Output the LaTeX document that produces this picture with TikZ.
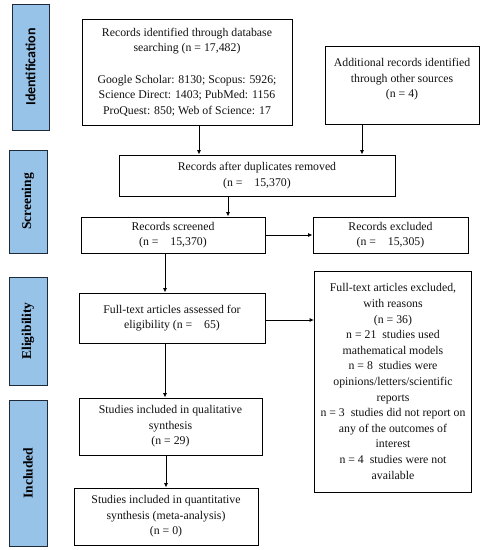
\documentclass[tikz,border=0pt]{standalone}
\usepackage{fontspec}
\setmainfont{Liberation Serif}
\newfontfamily\calib{Carlito}
\usetikzlibrary{arrows.meta}
\definecolor{sideblue}{HTML}{97C3E8}
\definecolor{sideedge}{HTML}{1E2A3A}
\definecolor{txt}{HTML}{111111}
\tikzset{
  flowbox/.style={draw=black, line width=0.9pt, fill=white, inner sep=0pt, align=center,
    text=txt, font=\fontsize{11.8}{15.6}\selectfont},
  sidebox/.style={draw=sideedge, line width=1pt, fill=sideblue, inner sep=0pt},
  sidetext/.style={rotate=90, text=black, font=\fontsize{13.5}{15}\selectfont\bfseries},
  arr/.style={line width=0.9pt, -{Latex[length=4.5pt,width=4pt]}}
}
\begin{document}
\begin{tikzpicture}[x=1pt,y=-1pt]
\useasboundingbox (0,0) rectangle (483,550);
% side labels
\node[sidebox, minimum width=37pt, minimum height=126pt] (sid) at (30.5,67) {};
\node[sidetext, font=\calib\fontsize{14}{15}\selectfont\bfseries] (sidt) at (sid.center) {Identification};
\node[sidebox, minimum width=38pt, minimum height=103pt] (ssc) at (28,201.5) {};
\node[sidetext] (ssct) at (ssc.center) {Screening};
\node[sidebox, minimum width=38pt, minimum height=108pt] (sel) at (28,331) {};
\node[sidetext] (selt) at (sel.center) {Eligibility};
\node[sidebox, minimum width=38pt, minimum height=146pt] (sin) at (28,473) {};
\node[sidetext] (sint) at (sin.center) {Included};
% boxes
\node[flowbox, minimum width=210pt, minimum height=106pt] (rid) at (187,72)
  {Records identified through database\\ searching (n = 17,482)\\[15.6pt]
   Google Scholar: 8130; Scopus: 5926;\\ Science Direct: 1403; PubMed: 1156\\ ProQuest: 850; Web of Science: 17};
\node[flowbox, minimum width=154pt, minimum height=78pt] (add) at (402,85)
  {Additional records identified\\ through other sources\\ (n = 4)\\[-6pt]\strut};
\node[flowbox, minimum width=276pt, minimum height=41pt] (dup) at (257,175.5)
  {Records after duplicates removed\\ (n =~~~~15,370)};
\node[flowbox, minimum width=184pt, minimum height=36pt] (scr) at (173,235)
  {Records screened\\ (n =~~~~15,370)};
\node[flowbox, minimum width=155pt, minimum height=36pt] (exc) at (390.5,235)
  {Records excluded\\ (n =~~~~15,305)};
\node[flowbox, minimum width=186pt, minimum height=50pt] (ful) at (172,318)
  {Full-text articles assessed for\\ eligibility (n =~~~~65)};
\node[flowbox, minimum width=157pt, minimum height=221pt] (fex) at (393,381.5)
  {Full-text articles excluded,\\ with reasons\\ (n = 36)\\ n = 21~ studies used\\ mathematical models\\
   n = 8~ studies were\\ opinions/letters/scientific\\ reports\\ n = 3~ studies did not report on\\
   any of the outcomes of\\ interest\\ n = 4~ studies were not\\ available};
\node[flowbox, minimum width=183pt, minimum height=57pt] (qual) at (170.5,426.5)
  {Studies included in qualitative\\ synthesis\\ (n = 29)};
\node[flowbox, minimum width=184pt, minimum height=57pt] (quan) at (166,516.5)
  {Studies included in quantitative\\ synthesis (meta-analysis)\\ (n = 0)};
% connectors
\draw[arr] (rid.south -| 199,0) -- (dup.north -| 199,0);
\draw[arr] (add.south -| 362,0) -- (dup.north -| 362,0);
\draw[arr] (dup.south -| 228,0) -- (scr.north -| 228,0);
\draw[arr] (scr.east) -- (exc.west);
\draw[arr] (scr.south -| 165,0) -- (ful.north -| 165,0);
\draw[arr] (ful.east |- 0,320) -- (fex.west |- 0,320);
\draw[arr] (ful.south -| 165,0) -- (qual.north -| 165,0);
\draw[arr] (qual.south -| 166,0) -- (quan.north -| 166,0);
\end{tikzpicture}
\end{document}
